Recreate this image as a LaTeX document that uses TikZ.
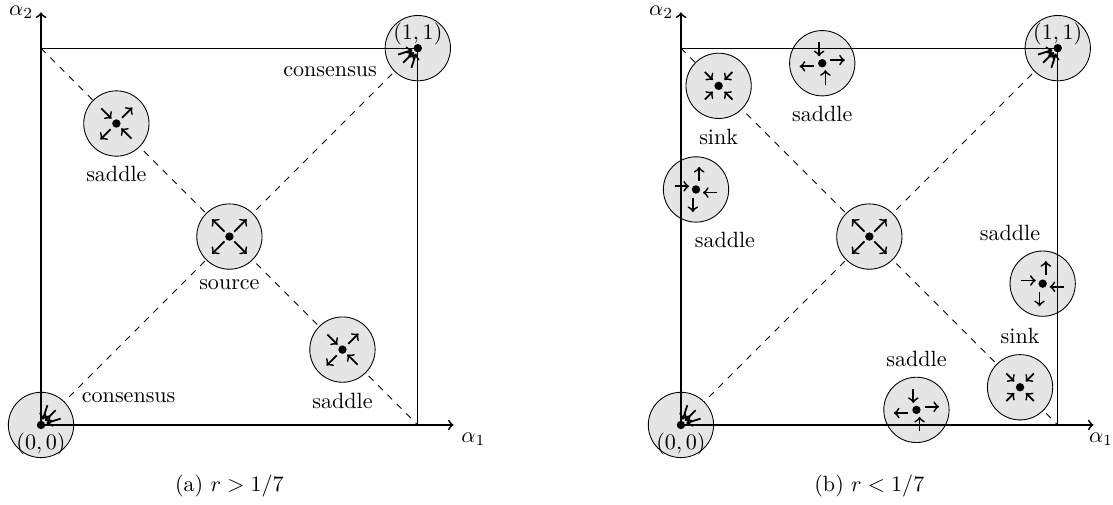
\documentclass[tikz,border=0pt]{standalone}
\usetikzlibrary{positioning}

\tikzset{
  eqpt/.style={circle,draw,fill=gray!20,minimum size=1.04cm,inner sep=0pt},
  flow/.style={->,thick},
  axis/.style={->,thick},
  frame/.style={thin},
  pics/sourceflow/.style={code={
    \foreach \a in {45,135,225,315}
      \draw[flow] (\a:0.11cm) -- (\a:0.39cm);
  }},
  pics/sinkflow/.style={code={
    \foreach \a in {45,135,225,315}
      \draw[flow] (\a:0.31cm) -- (\a:0.13cm);
  }},
  pics/cornerflow/.style={code={
    \foreach \a in {18,45,72}
      \draw[flow] (\a:0.33cm) -- (\a:0.09cm);
  }},
  pics/hsaddle/.style={code={
    \draw[flow] (-0.34cm,#1) -- (-0.11cm,#1);
    \draw[flow] (0.34cm,-#1) -- (0.11cm,-#1);
    \draw[flow] (#1,0.13cm) -- (#1,0.36cm);
    \draw[flow] (-#1,-0.13cm) -- (-#1,-0.36cm);
  }},
  pics/vsaddle/.style={code={
    \draw[flow] (#1,-0.34cm) -- (#1,-0.11cm);
    \draw[flow] (-#1,0.34cm) -- (-#1,0.11cm);
    \draw[flow] (0.13cm,#1) -- (0.36cm,#1);
    \draw[flow] (-0.13cm,-#1) -- (-0.36cm,-#1);
  }},
}

\begin{document}
\begin{tikzpicture}[x=6cm,y=6cm]
\useasboundingbox (-0.653cm,-1.274cm) rectangle (17.07cm,6.767cm);

%% (a) r > 1/7

% Corners
\coordinate (O) at (0,0);
\coordinate (Q) at (0,1);
\coordinate (P) at (1,1);
\coordinate (R) at (1,0);
\coordinate (xa) at (1.095,0);
\coordinate (ya) at (0,1.095);

% Diagonals
\draw[dashed] (O) -- (P);
\draw[dashed] (Q) -- (R);

% Equilibria
\node[eqpt] (c00) at (O) {};
\node[eqpt] (c11) at (P) {};
\node[eqpt] (s1) at (0.2,0.8) {};
\node[eqpt] (src) at (0.5,0.5) {};
\node[eqpt] (s2) at (0.8,0.2) {};

% Square and axes
\draw[frame] (Q) -- (P) -- (R);
\draw[axis] (O) -- (xa);
\draw[axis] (O) -- (ya);

% Flow
\foreach \p in {c00,c11,s1,src,s2}
  \fill (\p.center) circle (1.9pt);
\pic at (c00.center) {cornerflow};
\pic[rotate=180] at (c11.center) {cornerflow};
\pic[rotate=-45] at (s1.center) {hsaddle=0cm};
\pic[rotate=-45] at (s2.center) {hsaddle=0cm};
\pic at (src.center) {sourceflow};

% Labels
\node[anchor=north west] (ax1) at (xa) {$\alpha_1$};
\node[anchor=east] (ax2) at (ya) {$\alpha_2$};
\node[above,inner sep=1pt] (l11) at (P) {$(1,1)$};
\node[below] (l00) at (O) {$(0,0)$};
\node[left=0pt of c11,yshift=-0.38cm] (cons1) {consensus};
\node[right=0pt of c00,yshift=0.43cm] (cons0) {consensus};
\node[below=1pt of s1] (ls1) {saddle};
\node[below=1pt of src] (lsrc) {source};
\node[below=1pt of s2] (ls2) {saddle};
\node (capa) at (0.5,-0.162) {(a) $r>1/7$};

%% (b) r < 1/7
\begin{scope}[xshift=10.19cm]

% Corners
\coordinate (bO) at (0,0);
\coordinate (bQ) at (0,1);
\coordinate (bP) at (1,1);
\coordinate (bR) at (1,0);
\coordinate (bxa) at (1.095,0);
\coordinate (bya) at (0,1.095);

% Diagonals
\draw[dashed] (bO) -- (bP);
\draw[dashed] (bQ) -- (bR);

% Equilibria
\node[eqpt] (b00) at (bO) {};
\node[eqpt] (b11) at (bP) {};
\node[eqpt] (bsrc) at (0.5,0.5) {};
\node[eqpt] (bk1) at (0.1,0.9) {};
\node[eqpt] (bk2) at (0.9,0.1) {};
\node[eqpt] (bs1) at (0.375,0.96) {};
\node[eqpt] (bs2) at (0.04,0.625) {};
\node[eqpt] (bs3) at (0.96,0.375) {};
\node[eqpt] (bs4) at (0.625,0.04) {};

% Square and axes
\draw[frame] (bQ) -- (bP) -- (bR);
\draw[axis] (bO) -- (bxa);
\draw[axis] (bO) -- (bya);

% Flow
\foreach \p in {b00,b11,bsrc,bk1,bk2,bs1,bs2,bs3,bs4}
  \fill (\p.center) circle (1.9pt);
\pic at (b00.center) {cornerflow};
\pic[rotate=180] at (b11.center) {cornerflow};
\pic at (bsrc.center) {sourceflow};
\pic at (bk1.center) {sinkflow};
\pic at (bk2.center) {sinkflow};
\pic at (bs1.center) {vsaddle=0.05cm};
\pic at (bs4.center) {vsaddle=0.05cm};
\pic at (bs2.center) {hsaddle=0.05cm};
\pic at (bs3.center) {hsaddle=0.05cm};

% Labels
\node[anchor=north,xshift=0.12cm] (bax1) at (bxa) {$\alpha_1$};
\node[anchor=east] (bax2) at (bya) {$\alpha_2$};
\node[above,inner sep=1pt] (bl11) at (bP) {$(1,1)$};
\node[below] (bl00) at (bO) {$(0,0)$};
\node[below=1pt of bk1] (lk1) {sink};
\node[above=1pt of bk2] (lk2) {sink};
\node[below=1pt of bs1] (lbs1) {saddle};
\node[below=1pt of bs2,xshift=0.46cm] (lbs2) {saddle};
\node[above=1pt of bs3,xshift=-0.52cm] (lbs3) {saddle};
\node[above=1pt of bs4] (lbs4) {saddle};
\node (capb) at (0.5,-0.162) {(b) $r<1/7$};

\end{scope}

\end{tikzpicture}
\end{document}
